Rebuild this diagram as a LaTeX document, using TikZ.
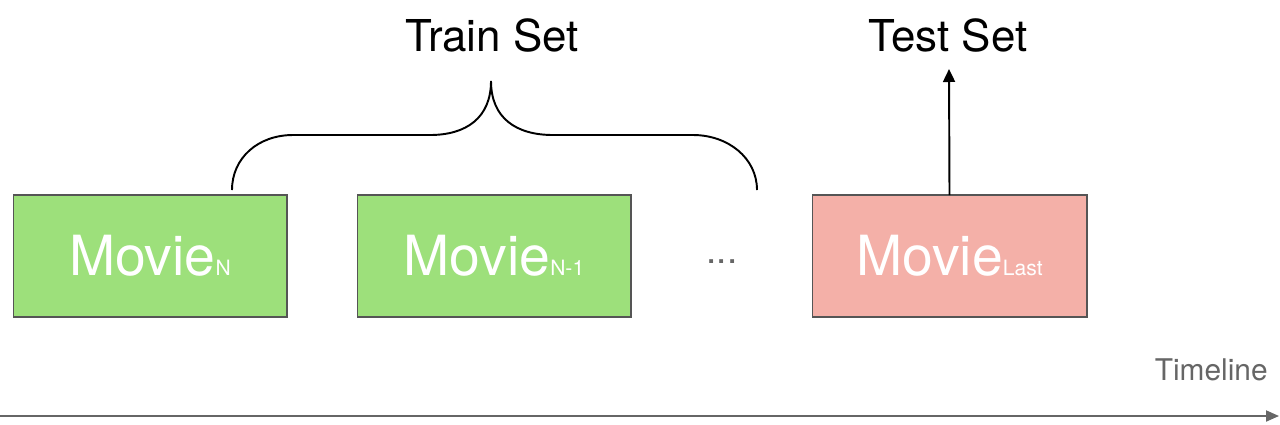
\documentclass[tikz,border=0pt]{standalone}
\usepackage{fontspec}
\setmainfont{TeX Gyre Heros}
\usetikzlibrary{arrows.meta}
\definecolor{boxgreen}{HTML}{9DE07B}
\definecolor{boxred}{HTML}{F4B0A8}
\definecolor{edgegray}{HTML}{555555}
\definecolor{txtgray}{HTML}{666666}
\tikzset{
  moviebox/.style={draw=edgegray, line width=0.6pt, minimum width=5.48cm, minimum height=2.44cm, inner sep=0pt, outer sep=0pt, text=white},
  bigtitle/.style={anchor=base, inner sep=0pt, font=\fontsize{25}{28}\selectfont},
  bracestyle/.style={line width=1.1pt, black},
  uparrow/.style={line width=1.1pt, -{Triangle[width=0.24cm,length=0.26cm]}},
  timearrow/.style={line width=1.1pt, txtgray, -{Triangle[width=0.22cm,length=0.26cm]}}
}
\newcommand{\movielabel}[1]{{\fontsize{31.5}{34}\selectfont Movie}{\fontsize{12}{13}\selectfont #1}}
\begin{document}
\begin{tikzpicture}[x=0.02cm, y=-0.02cm]
\useasboundingbox (0,0) rectangle (1280,424);
% boxes
\node[moviebox, fill=boxgreen] (m1) at (150,256) {\movielabel{N}};
\node[moviebox, fill=boxgreen] (m2) at (494,256) {\movielabel{N-1}};
\node[moviebox, fill=boxred, minimum width=5.5cm] (m3) at (949.5,256) {\movielabel{Last}};
\node[text=txtgray, inner sep=0pt, font=\fontsize{21}{24}\selectfont] (dots) at (722,262) {...};
% titles
\node[bigtitle] (train) at (492,51) {Train Set};
\node[bigtitle] (test) at (948,51) {Test Set};
\node[anchor=base east, inner sep=0pt, text=txtgray, font=\fontsize{17}{20}\selectfont] (timeline) at (1268,380) {Timeline};
% brace
\coordinate (bl) at (232,190);
\coordinate (br) at (757,190);
\coordinate (bp) at (491,81);
\draw[bracestyle] (bl) .. controls (232,158) and (258,135) .. (293,135)
  -- (430,135) .. controls (466,135) and (491,118) .. (bp)
  .. controls (491,118) and (516,135) .. (553,135)
  -- (693,135) .. controls (728,135) and (757,158) .. (br);
% test arrow
\coordinate (testtip) at (949,69);
\draw[uparrow] (m3.north) -- (testtip);
% timeline
\coordinate (tl0) at (0,416);
\coordinate (tl1) at (1279,416);
\draw[timearrow] (tl0) -- (tl1);
\end{tikzpicture}
\end{document}
